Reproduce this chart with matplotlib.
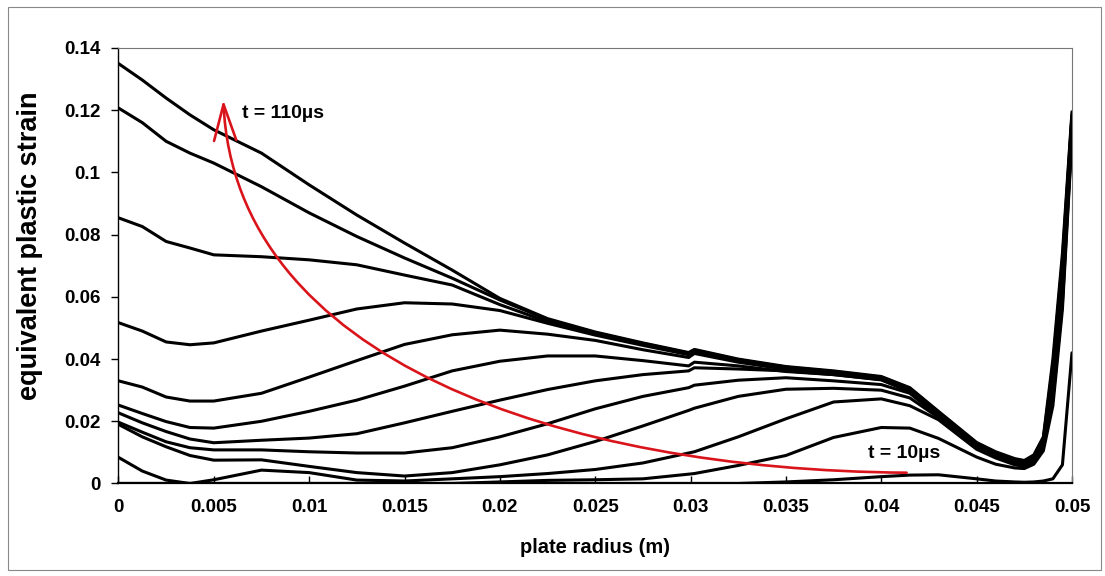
import matplotlib
matplotlib.use("Agg")
import matplotlib.pyplot as plt
from matplotlib.patches import Rectangle, FancyArrowPatch
from matplotlib.path import Path

plt.rcParams['font.family'] = ['Liberation Sans', 'DejaVu Sans']

# radial positions (m) where the strain profiles are sampled
radius = [0, 0.00125, 0.0025, 0.00375, 0.005, 0.0075, 0.01, 0.0125, 0.015, 0.0175,
          0.02, 0.0225, 0.025, 0.0275, 0.0299, 0.0302, 0.0325, 0.035, 0.0375, 0.04,
          0.0415, 0.043, 0.045, 0.046, 0.047, 0.0475, 0.048, 0.0485, 0.049, 0.0495, 0.05]

# equivalent plastic strain profiles, latest time step (t = 110us) first
curve_01 = [0.135, 0.1297, 0.1239, 0.1185, 0.1137, 0.1062, 0.0960, 0.0863, 0.0773, 0.0686,
            0.0595, 0.0530, 0.0487, 0.0452, 0.0421, 0.0431, 0.0400, 0.0376, 0.0362, 0.0344,
            0.0308, 0.0232, 0.0132, 0.0102, 0.0080, 0.0074, 0.0092, 0.0150, 0.0400, 0.0740, 0.1195]
curve_02 = [0.1207, 0.1160, 0.1100, 0.1062, 0.1030, 0.0954, 0.0870, 0.0794, 0.0725, 0.0660,
            0.0590, 0.0527, 0.0485, 0.0450, 0.0419, 0.0429, 0.0398, 0.0374, 0.0360, 0.0342,
            0.0305, 0.0229, 0.0129, 0.0099, 0.0077, 0.0071, 0.0088, 0.0145, 0.0380, 0.0720, 0.1185]
curve_03 = [0.0854, 0.0826, 0.0778, 0.0757, 0.0735, 0.0729, 0.0719, 0.0703, 0.0670, 0.0638,
            0.0575, 0.0520, 0.0480, 0.0447, 0.0417, 0.0427, 0.0396, 0.0372, 0.0358, 0.0340,
            0.0302, 0.0226, 0.0126, 0.0096, 0.0074, 0.0068, 0.0085, 0.0140, 0.0360, 0.0700, 0.1180]
curve_04 = [0.0517, 0.0490, 0.0455, 0.0446, 0.0452, 0.0490, 0.0525, 0.0561, 0.0581, 0.0577,
            0.0556, 0.0515, 0.0477, 0.0444, 0.0414, 0.0424, 0.0394, 0.0370, 0.0356, 0.0338,
            0.0299, 0.0223, 0.0123, 0.0093, 0.0071, 0.0066, 0.0082, 0.0135, 0.0340, 0.0680, 0.1170]
curve_05 = [0.0330, 0.0310, 0.0278, 0.0265, 0.0265, 0.0290, 0.0342, 0.0395, 0.0447, 0.0478,
            0.0493, 0.0480, 0.0460, 0.0430, 0.0405, 0.0418, 0.0390, 0.0367, 0.0354, 0.0336,
            0.0297, 0.0220, 0.0120, 0.0091, 0.0069, 0.0064, 0.0080, 0.0130, 0.0320, 0.0660, 0.1160]
curve_06 = [0.0252, 0.0225, 0.0199, 0.0180, 0.0178, 0.0200, 0.0232, 0.0268, 0.0313, 0.0362,
            0.0393, 0.0410, 0.0410, 0.0395, 0.0378, 0.0390, 0.0378, 0.0360, 0.0350, 0.0333,
            0.0295, 0.0218, 0.0118, 0.0089, 0.0067, 0.0062, 0.0078, 0.0125, 0.0300, 0.0640, 0.1150]
curve_07 = [0.0227, 0.0195, 0.0167, 0.0143, 0.0131, 0.0139, 0.0146, 0.0160, 0.0195, 0.0232,
            0.0268, 0.0302, 0.0330, 0.0350, 0.0362, 0.0372, 0.0368, 0.0362, 0.0350, 0.0334,
            0.0296, 0.0219, 0.0119, 0.0090, 0.0068, 0.0063, 0.0079, 0.0127, 0.0310, 0.0640, 0.1150]
curve_08 = [0.0197, 0.0165, 0.0134, 0.0115, 0.0108, 0.0108, 0.0102, 0.0098, 0.0098, 0.0115,
            0.0150, 0.0192, 0.0240, 0.0280, 0.0308, 0.0316, 0.0332, 0.0340, 0.0330, 0.0318,
            0.0290, 0.0215, 0.0116, 0.0087, 0.0065, 0.0060, 0.0076, 0.0122, 0.0290, 0.0620, 0.1140]
curve_09 = [0.0190, 0.0150, 0.0118, 0.0090, 0.0075, 0.0076, 0.0055, 0.0035, 0.0024, 0.0035,
            0.0060, 0.0092, 0.0135, 0.0185, 0.0235, 0.0242, 0.0280, 0.0303, 0.0306, 0.0300,
            0.0275, 0.0212, 0.0114, 0.0085, 0.0063, 0.0058, 0.0074, 0.0120, 0.0280, 0.0600, 0.1130]
curve_10 = [0.0084, 0.0040, 0.0011, 0.0000, 0.0012, 0.0043, 0.0035, 0.0011, 0.0008, 0.0015,
            0.0022, 0.0032, 0.0045, 0.0066, 0.0098, 0.0102, 0.0150, 0.0208, 0.0262, 0.0272,
            0.0250, 0.0205, 0.0110, 0.0082, 0.0060, 0.0055, 0.0070, 0.0115, 0.0270, 0.0580, 0.1120]
curve_11 = [0.0, 0.0, 0.0, 0.0, 0.0, 0.0, 0.0, 0.0, 0.0, 0.0,
            0.0005, 0.0010, 0.0012, 0.0015, 0.0030, 0.0032, 0.0058, 0.0090, 0.0148, 0.0180,
            0.0178, 0.0145, 0.0085, 0.0062, 0.0050, 0.0048, 0.0062, 0.0105, 0.0250, 0.0560, 0.1110]
curve_12 = [0.0, 0.0, 0.0, 0.0, 0.0, 0.0, 0.0, 0.0, 0.0, 0.0,
            0.0, 0.0, 0.0, 0.0, 0.0, 0.0, 0.0, 0.0005, 0.0012, 0.0022,
            0.0027, 0.0028, 0.0015, 0.0008, 0.0005, 0.0004, 0.0005, 0.0008, 0.0015, 0.0060, 0.0420]

profiles = [curve_01, curve_02, curve_03, curve_04, curve_05, curve_06,
            curve_07, curve_08, curve_09, curve_10, curve_11, curve_12]

# time arrow: start, two bezier handles, tip (data units)
arrow_r = [0.04133, 0.02315, 0.00611, 0.0055]
arrow_eps = [0.00347, 0.00434, 0.03971, 0.12331]

x_ticks = [0, 0.005, 0.01, 0.015, 0.02, 0.025, 0.03, 0.035, 0.04, 0.045, 0.05]
x_labels = ['0', '0.005', '0.01', '0.015', '0.02', '0.025', '0.03', '0.035', '0.04', '0.045', '0.05']
y_ticks = [0, 0.02, 0.04, 0.06, 0.08, 0.1, 0.12, 0.14]
y_labels = ['0', '0.02', '0.04', '0.06', '0.08', '0.1', '0.12', '0.14']

fig = plt.figure(figsize=(11.05, 5.76), dpi=100)
ax = fig.add_axes([0.1072, 0.1606, 0.8629, 0.7561])

for eps in profiles:
    ax.plot(radius, eps, color='black', lw=2.2, solid_joinstyle='round',
            solid_capstyle='round', zorder=3)

arc = Path(list(zip(arrow_r, arrow_eps)),
           [Path.MOVETO, Path.CURVE4, Path.CURVE4, Path.CURVE4])
ax.add_patch(FancyArrowPatch(path=arc, arrowstyle='->, head_length=26, head_width=8',
                             mutation_scale=1, color='#d9141b', lw=1.9,
                             transform=ax.transData, zorder=4))

ax.text(0.00648, 0.1188, 't = 110µs', fontsize=14, fontweight='bold', va='center',
        ha='left', zorder=5)
ax.text(0.0393, 0.0095, 't = 10µs', fontsize=14, fontweight='bold', va='center',
        ha='left', zorder=5,
        bbox=dict(facecolor='white', edgecolor='none', pad=0.3))

ax.set_xlim(0, 0.05)
ax.set_ylim(0, 0.14)
ax.set_xticks(x_ticks)
ax.set_xticklabels(x_labels)
ax.set_yticks(y_ticks)
ax.set_yticklabels(y_labels)
ax.tick_params(axis='x', direction='in', length=5, width=1, pad=11, labelsize=13.5)
ax.tick_params(axis='y', direction='out', length=5, width=1, pad=8, labelsize=13.5)
for lab in ax.get_xticklabels() + ax.get_yticklabels():
    lab.set_fontweight('bold')

for side in ['top', 'right']:
    ax.spines[side].set_color('#777777')
    ax.spines[side].set_linewidth(0.8)
ax.spines['left'].set_linewidth(1.0)
ax.spines['bottom'].set_linewidth(1.6)

ax.set_xlabel('plate radius (m)', fontsize=14.5, fontweight='bold', labelpad=16)
fig.text(30 / 1105, 1 - 246 / 576, 'equivalent plastic strain', rotation=90,
         fontsize=19.5, fontweight='bold', ha='center', va='center')

# thin frame round the whole chart
fig.patches.append(Rectangle((0.007, 0.01), 0.989, 0.978, transform=fig.transFigure,
                             fill=False, edgecolor='#888888', lw=0.8))

fig.savefig('out.png', dpi=100)
